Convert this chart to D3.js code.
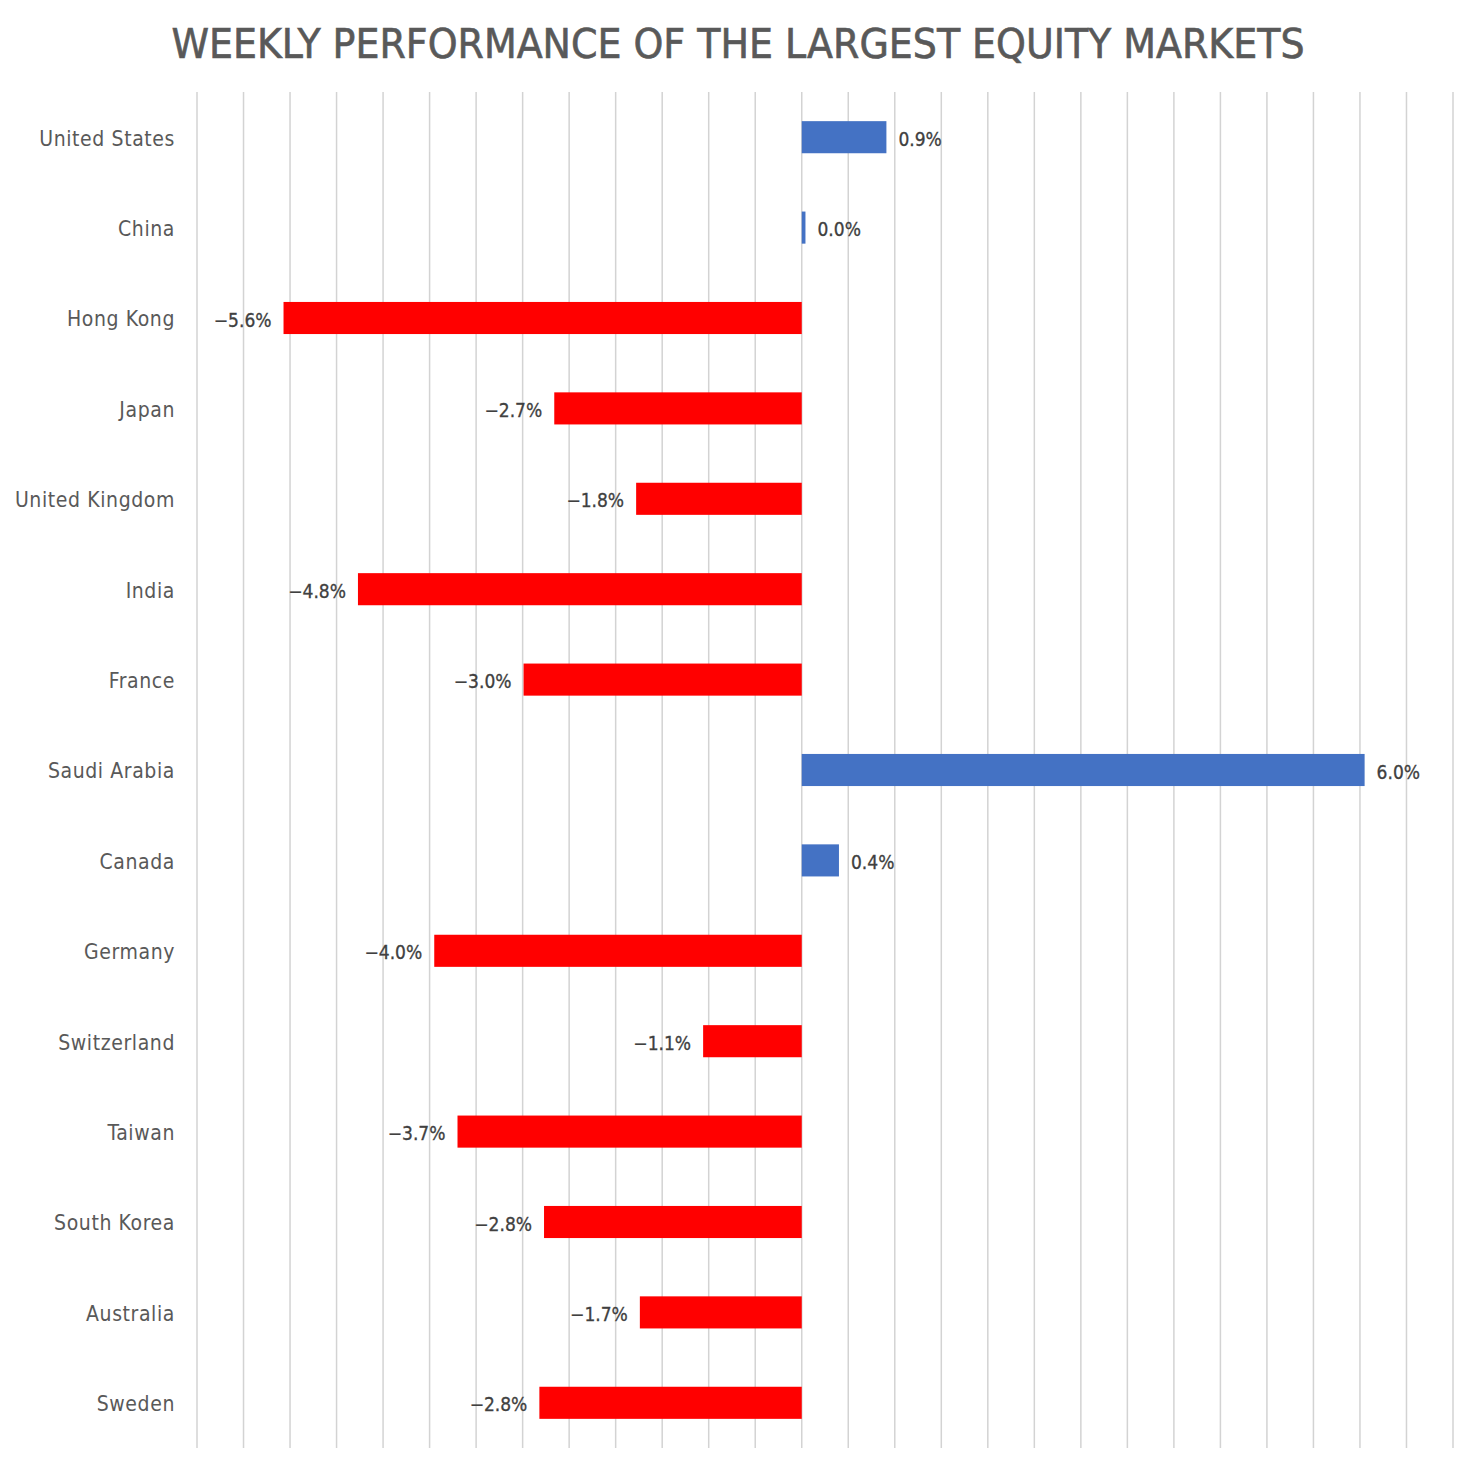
<!DOCTYPE html>
<html>
<head>
<meta charset="utf-8">
<script src="https://cdn.jsdelivr.net/npm/d3@7"></script>
<style>
  body { margin: 0; background: #fff; }
  text { font-family: "DejaVu Sans Condensed", "Roboto", sans-serif; }
</style>
</head>
<body>
<script>
const categories = ["United States", "China", "Hong Kong", "Japan", "United Kingdom", "India", "France",
  "Saudi Arabia", "Canada", "Germany", "Switzerland", "Taiwan", "South Korea", "Australia", "Sweden"];
const weeklyReturns = [0.91, 0.04, -5.57, -2.66, -1.78, -4.77, -2.99, 6.05, 0.40, -3.95, -1.06, -3.70, -2.77, -1.74, -2.82];
const gridTicks = d3.range(-6.5, 7.01, 0.5);

const colors = {
  up: "#4472C4",
  down: "#FF0000",
  grid: "#d3d3d3",
  title: "#595959",
  label: "#595959",
  value: "#404040"
};

const w = 1477;
const h = 1473;
const margin = { top: 92, right: 24, bottom: 25, left: 197 };

const svg = d3.select("body")
  .append("svg")
  .attr("width", w)
  .attr("height", h);

const xScale = d3.scaleLinear()
  .domain([-6.5, 7.0])
  .range([margin.left, w - margin.right]);

const yScale = d3.scaleBand()
  .domain(categories)
  .range([margin.top, h - margin.bottom])
  .paddingInner(0.645)
  .paddingOuter(0.3225);

// title
svg.append("text")
  .attr("x", 738)
  .attr("y", 58)
  .attr("text-anchor", "middle")
  .attr("fill", colors.title)
  .attr("font-size", 41)
  .attr("font-weight", 500)
  .attr("stroke", colors.title)
  .attr("stroke-width", 0.6)
  .attr("textLength", 1133)
  .attr("lengthAdjust", "spacingAndGlyphs")
  .text("WEEKLY PERFORMANCE OF THE LARGEST EQUITY MARKETS");

// vertical gridlines
svg.append("g")
  .selectAll("line")
  .data(gridTicks)
  .enter()
  .append("line")
  .attr("x1", d => xScale(d))
  .attr("x2", d => xScale(d))
  .attr("y1", margin.top)
  .attr("y2", h - margin.bottom)
  .attr("stroke", colors.grid)
  .attr("stroke-width", 1.5);

// bars
svg.append("g")
  .selectAll("rect")
  .data(categories)
  .enter()
  .append("rect")
  .attr("x", (d, i) => xScale(Math.min(0, weeklyReturns[i])))
  .attr("y", d => yScale(d))
  .attr("width", (d, i) => Math.abs(xScale(weeklyReturns[i]) - xScale(0)))
  .attr("height", yScale.bandwidth())
  .attr("fill", (d, i) => weeklyReturns[i] >= 0 ? colors.up : colors.down);

// category labels
svg.append("g")
  .selectAll("text")
  .data(categories)
  .enter()
  .append("text")
  .attr("x", 175)
  .attr("y", d => yScale(d) + yScale.bandwidth() / 2)
  .attr("dy", "0.4em")
  .attr("text-anchor", "end")
  .attr("fill", colors.label)
  .attr("font-size", 21)
  .attr("letter-spacing", 0.6)
  .text(d => d);

// value labels
svg.append("g")
  .selectAll("text")
  .data(categories)
  .enter()
  .append("text")
  .attr("x", (d, i) => xScale(weeklyReturns[i]) + (weeklyReturns[i] >= 0 ? 12 : -12))
  .attr("y", d => yScale(d) + yScale.bandwidth() / 2)
  .attr("dy", "0.45em")
  .attr("text-anchor", (d, i) => weeklyReturns[i] >= 0 ? "start" : "end")
  .attr("fill", colors.value)
  .attr("font-size", 19)
  .attr("stroke", colors.value)
  .attr("stroke-width", 0.3)
  .text((d, i) => weeklyReturns[i].toFixed(1).replace("-", "\u2212") + "%");
</script>
</body>
</html>
